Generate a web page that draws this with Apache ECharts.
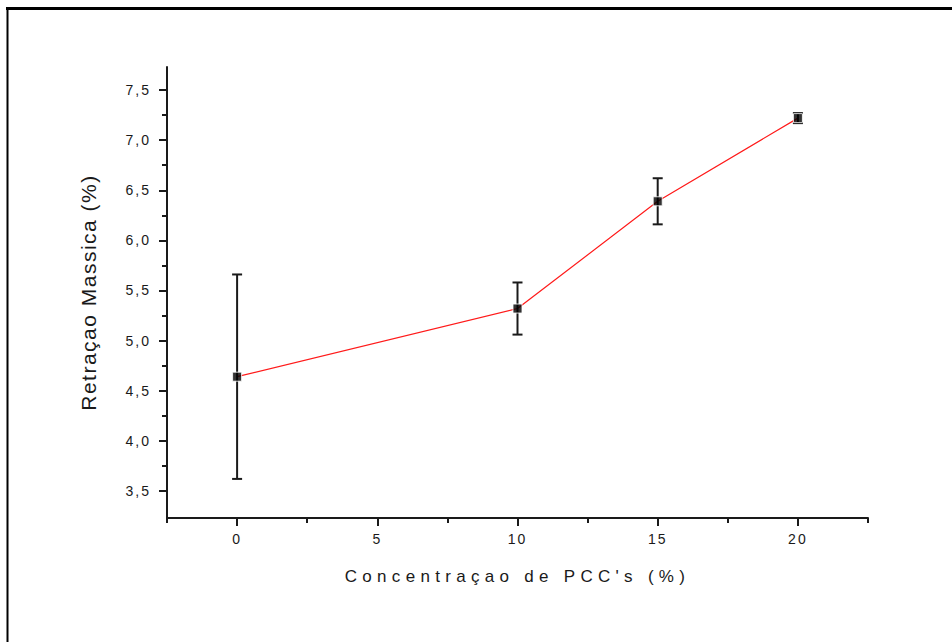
<!DOCTYPE html>
<html>
<head>
<meta charset="utf-8">
<script src="https://cdn.jsdelivr.net/npm/echarts@6/dist/echarts.min.js"></script>
<style>
html,body{margin:0;padding:0;background:#fff;}
#chart{width:952px;height:642px;}
</style>
</head>
<body>
<div id="chart"></div>
<script>
// ---- data ----
const concentrations = [0, 10, 15, 20];
const retraction = [4.64, 5.32, 6.39, 7.22];
const errors = [1.02, 0.26, 0.23, 0.05];
const xMajorTicks = [0, 5, 10, 15, 20];
const xMinorTicks = [-2.5, 2.5, 7.5, 12.5, 17.5, 22.5];
const yMajorTicks = [3.5, 4.0, 4.5, 5.0, 5.5, 6.0, 6.5, 7.0, 7.5];
const yMinorTicks = [3.75, 4.25, 4.75, 5.25, 5.75, 6.25, 6.75, 7.25];
const xTitle = "Concentraçao de PCC's (%)";
const yTitle = "Retraçao Massica (%)";

const FONT = 'Liberation Sans';
const INK = '#1a1a1a';

const chart = echarts.init(document.getElementById('chart'), null, {renderer: 'svg'});

const lineData = concentrations.map((c, i) => [c, retraction[i]]);
const errData = concentrations.map((c, i) => [c, retraction[i] - errors[i], retraction[i] + errors[i]]);

function renderErr(params, api) {
  const x = api.value(0);
  const pLo = api.coord([x, api.value(1)]);
  const pHi = api.coord([x, api.value(2)]);
  const hw = 5;
  const st = {stroke: INK, lineWidth: 2};
  return {
    type: 'group',
    children: [
      {type: 'line', shape: {x1: pHi[0], y1: pHi[1], x2: pLo[0], y2: pLo[1]}, style: st},
      {type: 'line', shape: {x1: pHi[0] - hw, y1: pHi[1], x2: pHi[0] + hw, y2: pHi[1]}, style: st},
      {type: 'line', shape: {x1: pLo[0] - hw, y1: pLo[1], x2: pLo[0] + hw, y2: pLo[1]}, style: st}
    ]
  };
}

const option = {
  animation: false,
  backgroundColor: '#ffffff',
  grid: {left: 167, right: 84, top: 67, bottom: 124},
  xAxis: [
    {
      type: 'value', min: -2.5, max: 22.5, position: 'bottom',
      axisLine: {show: true, onZero: false, lineStyle: {color: INK, width: 2}},
      axisTick: {show: true, inside: false, length: 8, customValues: xMajorTicks, lineStyle: {color: INK, width: 2}},
      axisLabel: {show: true, customValues: xMajorTicks, margin: 14, color: INK, fontFamily: FONT, fontSize: 14, formatter: v => String(v)},
      splitLine: {show: false},
      name: xTitle, nameLocation: 'middle', nameGap: 50,
      nameTextStyle: {fontFamily: FONT, fontSize: 17, color: INK}
    },
    {
      type: 'value', min: -2.5, max: 22.5, position: 'bottom',
      axisLine: {show: false, onZero: false},
      axisTick: {show: true, inside: false, length: 5, customValues: xMinorTicks, lineStyle: {color: INK, width: 2}},
      axisLabel: {show: false},
      splitLine: {show: false}
    }
  ],
  yAxis: [
    {
      type: 'value', min: 3.23, max: 7.73, position: 'left',
      axisLine: {show: true, onZero: false, lineStyle: {color: INK, width: 2}},
      axisTick: {show: true, inside: false, length: 8, customValues: yMajorTicks, lineStyle: {color: INK, width: 2}},
      axisLabel: {show: true, customValues: yMajorTicks, margin: 16, color: INK, fontFamily: FONT, fontSize: 14,
        formatter: v => v.toFixed(1).replace('.', ',')},
      splitLine: {show: false},
      name: yTitle, nameLocation: 'middle', nameGap: 68,
      nameTextStyle: {fontFamily: FONT, fontSize: 21, color: INK}
    },
    {
      type: 'value', min: 3.23, max: 7.73, position: 'left',
      axisLine: {show: false, onZero: false},
      axisTick: {show: true, inside: false, length: 5, customValues: yMinorTicks, lineStyle: {color: INK, width: 2}},
      axisLabel: {show: false},
      splitLine: {show: false}
    }
  ],
  series: [
    {
      type: 'line', data: lineData, xAxisIndex: 0, yAxisIndex: 0,
      lineStyle: {color: '#ff1a1a', width: 1.2},
      showSymbol: false, symbol: 'none', z: 2
    },
    {
      type: 'custom', data: errData, xAxisIndex: 0, yAxisIndex: 0,
      encode: {x: 0, y: [1, 2]},
      renderItem: renderErr, z: 3
    },
    {
      type: 'scatter', data: lineData, xAxisIndex: 0, yAxisIndex: 0,
      symbol: 'rect', symbolSize: 9,
      itemStyle: {color: '#000000', borderColor: '#ffffff', borderWidth: 1},
      z: 4
    }
  ],
  graphic: [
    {type: 'line', shape: {x1: 6, y1: 8.5, x2: 952, y2: 8.5}, style: {stroke: '#000', lineWidth: 3}, silent: true},
    {type: 'line', shape: {x1: 7.5, y1: 7, x2: 7.5, y2: 642}, style: {stroke: '#000', lineWidth: 2}, silent: true}
  ]
};

chart.setOption(option);

function applySpacing() {
  document.querySelectorAll('#chart text').forEach(t => {
    const s = t.textContent;
    if (s === xTitle) t.style.letterSpacing = '5.3px';
    else if (s === yTitle) t.style.letterSpacing = '1.5px';
    else t.style.letterSpacing = '2px';
  });
}
chart.on('finished', applySpacing);
setTimeout(applySpacing, 50);
</script>
</body>
</html>
